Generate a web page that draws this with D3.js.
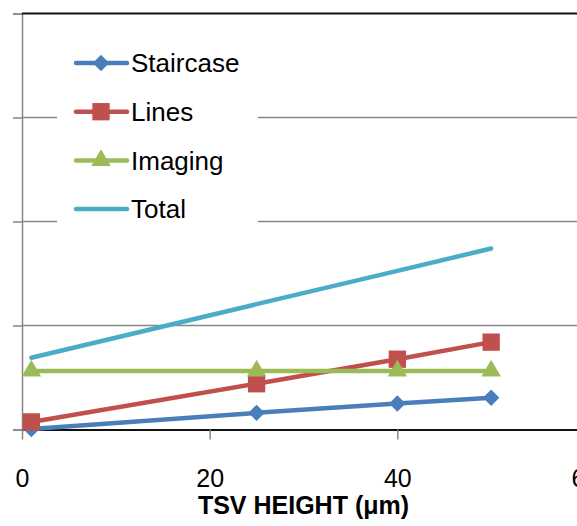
<!DOCTYPE html>
<html>
<head>
<meta charset="utf-8">
<script src="https://cdn.jsdelivr.net/npm/d3@7"></script>
<style>
  body { margin: 0; background: #fff; }
  svg { display: block; font-family: "Liberation Sans", Arial, sans-serif; }
</style>
</head>
<body>
<figure id="chart" style="margin:0"></figure>
<script>
// TSV height on the x axis
const heights = [1, 25, 40, 50];
const staircase = [0.05, 1.6, 2.5, 3.05];
const lines = [0.73, 4.4, 6.76, 8.4];
const imaging = [5.63, 5.63, 5.63, 5.63];
const total = [6.9, 12.05, 15.25, 17.4];
const xTicks = [0, 20, 40, 60];
const yTicks = [0, 10, 20, 30, 40];

const width = 577, height = 526;
const plotLeft = 22, plotRight = 585, plotTop = 13.5, plotBottom = 429.5;

const svg = d3.select("figure#chart")
  .append("svg")
  .attr("width", width)
  .attr("height", height);

const x = d3.scaleLinear().domain([0, 60]).range([plotLeft, plotRight]);
const y = d3.scaleLinear().domain([0, 40]).range([plotBottom, plotTop]);

// gridlines
svg.append("g")
  .selectAll("line")
  .data(yTicks.slice(1, -1))
  .enter()
  .append("line")
  .attr("x1", plotLeft).attr("x2", plotRight)
  .attr("y1", d => y(d)).attr("y2", d => y(d))
  .attr("stroke", "#888")
  .attr("stroke-width", 1.5);

// left axis, labels are cut off in the original
const yAxis = svg.append("g")
  .attr("transform", "translate(" + plotLeft + ",0)")
  .call(d3.axisLeft(y).tickValues(yTicks).tickSize(9).tickFormat(""));
yAxis.select(".domain").attr("stroke", "#888").attr("stroke-width", 1.5);
yAxis.selectAll(".tick line").attr("stroke", "#888").attr("stroke-width", 1.5);

// top border
svg.append("line")
  .attr("x1", plotLeft).attr("x2", plotRight)
  .attr("y1", y(40)).attr("y2", y(40))
  .attr("stroke", "#111").attr("stroke-width", 2);

// bottom axis
const xAxis = svg.append("g")
  .attr("transform", "translate(0," + plotBottom + ")")
  .call(d3.axisBottom(x).tickValues(xTicks).tickSize(10).tickPadding(30).tickSizeOuter(0));
xAxis.select(".domain").attr("stroke", "#111").attr("stroke-width", 2);
xAxis.selectAll(".tick line").attr("stroke", "#888").attr("stroke-width", 1.5);
xAxis.selectAll("text")
  .attr("fill", "#000")
  .style("font-size", "25px")
  .style("font-family", "Liberation Sans, Arial, sans-serif");

svg.append("text")
  .attr("x", (plotLeft + plotRight) / 2)
  .attr("y", 514)
  .attr("text-anchor", "middle")
  .style("font-size", "25px")
  .style("font-weight", "bold")
  .text("TSV HEIGHT (\u03bcm)");

// legend background hides gridlines
svg.append("rect")
  .attr("x", 57).attr("y", 32)
  .attr("width", 201).attr("height", 205)
  .attr("fill", "#fff");

const series = [
  { name: "Staircase", values: staircase, color: "#4A7EBB", symbol: d3.symbolSquare, size: 135, rot: 45 },
  { name: "Lines", values: lines, color: "#C0504D", symbol: d3.symbolSquare, size: 300, rot: 0 },
  { name: "Imaging", values: imaging, color: "#9BBB59", symbol: d3.symbolTriangle, size: 165, rot: 0 },
  { name: "Total", values: total, color: "#4BACC6", symbol: null, size: 0, rot: 0 }
];

const line = d3.line()
  .x((d, i) => x(heights[i]))
  .y(d => y(d));

series.forEach(s => {
  svg.append("path")
    .datum(s.values)
    .attr("d", line)
    .attr("fill", "none")
    .attr("stroke", s.color)
    .attr("stroke-width", 4.5)
    .attr("stroke-linecap", "round")
    .attr("stroke-linejoin", "round");
  if (s.symbol) {
    const sym = d3.symbol().type(s.symbol).size(s.size);
    svg.selectAll(null)
      .data(s.values)
      .enter()
      .append("path")
      .attr("d", sym)
      .attr("transform", (d, i) => "translate(" + x(heights[i]) + "," + y(d) + ") rotate(" + s.rot + ")")
      .attr("fill", s.color);
  }
});

// legend
const legend = svg.append("g");
series.forEach((s, i) => {
  const ly = 63 + i * 48.7;
  legend.append("line")
    .attr("x1", 76).attr("x2", 127)
    .attr("y1", ly).attr("y2", ly)
    .attr("stroke", s.color)
    .attr("stroke-width", 4.5)
    .attr("stroke-linecap", "round");
  if (s.symbol) {
    legend.append("path")
      .attr("d", d3.symbol().type(s.symbol).size(s.size))
      .attr("transform", "translate(101," + ly + ") rotate(" + s.rot + ")")
      .attr("fill", s.color);
  }
  legend.append("text")
    .attr("x", 131)
    .attr("y", ly)
    .attr("dy", "0.36em")
    .style("font-size", "26px")
    .text(s.name);
});
</script>
</body>
</html>
